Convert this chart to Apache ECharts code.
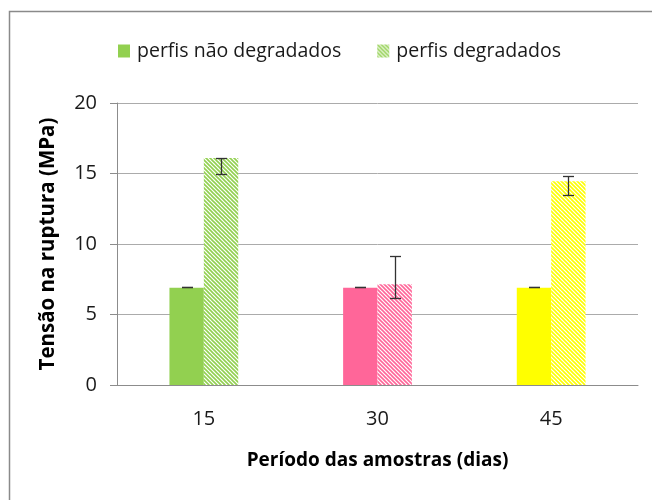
<!DOCTYPE html>
<html><head><meta charset="utf-8">
<script src="https://cdn.jsdelivr.net/npm/echarts@6/dist/echarts.min.js"></script>
<style>html,body{margin:0;padding:0;background:#fff}#c{width:652px;height:500px}</style>
</head><body><div id="c"></div><script>
const categories = ['15', '30', '45'];
const seriesNames = ['perfis não degradados', 'perfis degradados'];
const naoDegradados = [6.9, 6.9, 6.9];
const degradados = [16.1, 7.15, 14.45];
const naoDegLow = [6.92, 6.92, 6.92];
const naoDegHigh = [6.92, 6.92, 6.92];
const degLow = [15.0, 6.15, 13.45];
const degHigh = [16.12, 9.17, 14.84];
const catColors = ['#92d050', '#ff6699', '#ffff00'];
const yMin = 0, yMax = 20, yStep = 5;

const FONT = 'Open Sans';

function hatch(color) {
  const s = 4;
  const c = document.createElement('canvas');
  c.width = s; c.height = s;
  const g = c.getContext('2d');
  g.fillStyle = '#ffffff';
  g.fillRect(0, 0, s, s);
  g.strokeStyle = color;
  g.lineWidth = 1.6;
  for (let k = -1; k <= 1; k++) {
    g.beginPath();
    g.moveTo(-1, -1 + k * s);
    g.lineTo(s + 1, s + 1 + k * s);
    g.stroke();
  }
  return { image: c, repeat: 'repeat' };
}

function errSeries(low, high, side) {
  return {
    type: 'custom',
    z: 10,
    silent: true,
    encode: { x: 0, y: [1, 2] },
    data: categories.map((c, i) => [i, low[i], high[i]]),
    renderItem: function (params, api) {
      const i = api.value(0);
      const lo = api.value(1), hi = api.value(2);
      const band = api.size([1, 0])[0];
      const off = band * 0.099 * side;
      const pHi = api.coord([i, hi]);
      const pLo = api.coord([i, lo]);
      const x = Math.round(pHi[0] + off) + 0.5;
      const yh = Math.round(pHi[1]) + 0.5, yl = Math.round(pLo[1]) + 0.5;
      const hw = 5.5;
      const st = { stroke: '#333333', lineWidth: 1.3 };
      return {
        type: 'group',
        children: [
          { type: 'line', shape: { x1: x, y1: yh, x2: x, y2: yl }, style: st },
          { type: 'line', shape: { x1: x - hw, y1: yh, x2: x + hw, y2: yh }, style: st },
          { type: 'line', shape: { x1: x - hw, y1: yl, x2: x + hw, y2: yl }, style: st }
        ]
      };
    }
  };
}

const chart = echarts.init(document.getElementById('c'), null, { renderer: 'canvas' });
chart.setOption({
  animation: false,
  backgroundColor: '#ffffff',
  graphic: [{
    type: 'rect', silent: true, z: -10,
    shape: { x: 9.5, y: 11.5, width: 700, height: 600 },
    style: { fill: 'none', stroke: '#8a8a8a', lineWidth: 1.5 }
  }],
  legend: {
    data: seriesNames,
    left: 118, top: 41, padding: 0,
    itemWidth: 12, itemHeight: 13, itemGap: 36,
    icon: 'rect',
    textStyle: { fontFamily: FONT, fontSize: 19.5, color: '#1a1a1a', padding: [0, 0, 0, 2] }
  },
  grid: { left: 117, right: 14, top: 103, bottom: 115 },
  xAxis: {
    type: 'category', data: categories,
    name: 'Período das amostras (dias)', nameLocation: 'middle', nameGap: 66,
    nameTextStyle: { fontFamily: FONT, fontSize: 19, fontWeight: 'bold', color: '#000' },
    axisLine: { lineStyle: { color: '#8c8c8c', width: 1 } },
    axisTick: { show: false },
    axisLabel: { fontFamily: FONT, fontSize: 20, color: '#1a1a1a', margin: 24 }
  },
  yAxis: {
    type: 'value', min: yMin, max: yMax, interval: yStep,
    name: 'Tensão na ruptura (MPa)', nameLocation: 'middle', nameGap: 58,
    nameTextStyle: { fontFamily: FONT, fontSize: 20.5, fontWeight: 'bold', color: '#000' },
    axisLine: { show: true, lineStyle: { color: '#8c8c8c', width: 1 } },
    axisTick: { show: true, length: 7, lineStyle: { color: '#8c8c8c' } },
    splitLine: { lineStyle: { color: '#ababab', width: 1 } },
    axisLabel: { fontFamily: FONT, fontSize: 20, color: '#1a1a1a', margin: 20 }
  },
  series: [
    {
      name: seriesNames[0], type: 'bar', barWidth: '19.8%', barGap: '0%',
      itemStyle: { color: catColors[0] },
      data: naoDegradados.map((v, i) => ({ value: v, itemStyle: { color: catColors[i] } }))
    },
    {
      name: seriesNames[1], type: 'bar', barWidth: '19.8%', barGap: '0%',
      itemStyle: { color: hatch(catColors[0]) },
      data: degradados.map((v, i) => ({ value: v, itemStyle: { color: hatch(catColors[i]) } }))
    },
    errSeries(naoDegLow, naoDegHigh, -1),
    errSeries(degLow, degHigh, 1)
  ]
});
</script></body></html>
